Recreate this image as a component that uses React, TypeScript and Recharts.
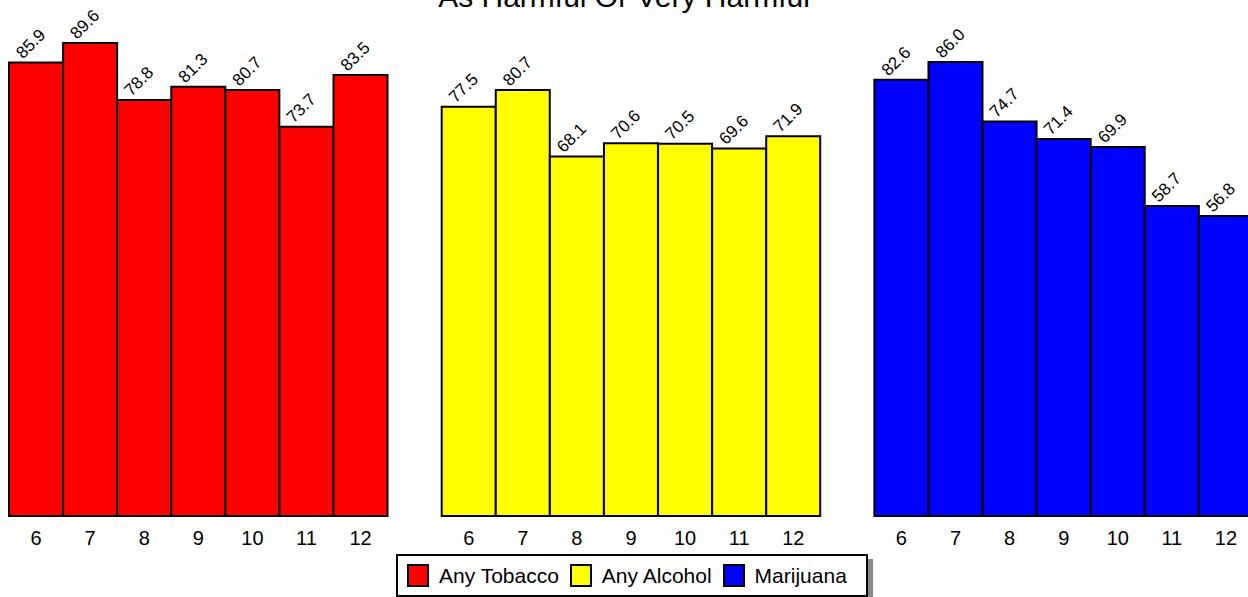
import React from 'react';
import { BarChart, Bar, XAxis, YAxis, Legend, LabelList } from 'recharts';

const grades = ['6', '7', '8', '9', '10', '11', '12'];
const tobacco = [85.9, 89.6, 78.8, 81.3, 80.7, 73.7, 83.5];
const alcohol = [77.5, 80.7, 68.1, 70.6, 70.5, 69.6, 71.9];
const marijuana = [82.6, 86.0, 74.7, 71.4, 69.9, 58.7, 56.8];
const seriesKeys = ['tobacco', 'alcohol', 'marijuana'];
const seriesNames = ['Any Tobacco', 'Any Alcohol', 'Marijuana'];
const seriesColors = ['#ff0000', '#ffff00', '#0000ff'];
const title = 'As Harmful Or Very Harmful';

const FONT = '"Liberation Sans", Arial, Helvetica, sans-serif';

const seriesValues = [tobacco, alcohol, marijuana];
const rows: any[] = [];
seriesValues.forEach((vals, si) => {
  if (si > 0) rows.push({ grade: '' });
  grades.forEach((g, i) => {
    const r: any = { grade: g };
    r[seriesKeys[si]] = vals[i];
    rows.push(r);
  });
});

const ValueLabel = (props: any) => {
  const { x, y, value } = props;
  if (value == null || typeof value !== 'number') return null;
  const ax = Number(x) + 14;
  const ay = Number(y) - 3;
  return (
    <text
      x={ax}
      y={ay}
      transform={`rotate(-45 ${ax} ${ay})`}
      fontSize={17}
      fontFamily={FONT}
      fill="#000"
      textAnchor="start"
    >
      {value.toFixed(1)}
    </text>
  );
};

const renderLegend = () => (
  <div
    style={{
      boxSizing: 'border-box',
      width: 472,
      height: 43,
      border: '2px solid #000',
      background: '#fff',
      boxShadow: '5px 5px 0 #888',
      display: 'flex',
      alignItems: 'center',
      paddingLeft: 9,
      fontFamily: FONT,
      fontSize: 21,
      color: '#000',
    }}
  >
    {seriesNames.map((n, i) => (
      <div key={n} style={{ display: 'flex', alignItems: 'center', marginRight: 11 }}>
        <span
          style={{
            boxSizing: 'border-box',
            display: 'inline-block',
            width: 22,
            height: 23,
            background: seriesColors[i],
            border: '2px solid #000',
            marginRight: 10,
          }}
        />
        <span>{n}</span>
      </div>
    ))}
  </div>
);

export default function App() {
  return (
    <div
      style={{
        position: 'fixed',
        left: 0,
        top: 0,
        width: 1248,
        height: 597,
        overflow: 'hidden',
        background: '#fff',
      }}
    >
      <div style={{ position: 'absolute', left: 0, top: -12 }}>
        <BarChart
          width={1260}
          height={610}
          data={rows}
          margin={{ top: 0, right: 7, bottom: 52, left: 9 }}
          barCategoryGap={0}
          barGap={0}
        >
          <XAxis
            dataKey="grade"
            axisLine={false}
            tickLine={false}
            tickSize={0}
            tickMargin={15}
            height={30}
            interval={0}
            tick={{ fontSize: 20, fontFamily: FONT, fill: '#000' }}
          />
          <YAxis hide domain={[0, 100]} />
          <Legend
            verticalAlign="middle"
            align="center"
            content={renderLegend}
            wrapperStyle={{ left: 396, top: 566, width: 472, height: 43 }}
          />
          {seriesKeys.map((k, i) => (
            <Bar
              key={k}
              dataKey={k}
              name={seriesNames[i]}
              stackId="s"
              fill={seriesColors[i]}
              stroke="#000"
              strokeWidth={2}
              isAnimationActive={false}
            >
              <LabelList dataKey={k} content={ValueLabel} />
            </Bar>
          ))}
        </BarChart>
      </div>
      <svg
        width={1248}
        height={40}
        style={{ position: 'absolute', left: 0, top: 0, pointerEvents: 'none' }}
      >
        <text x={624} y={7} textAnchor="middle" fontSize={30} fontFamily={FONT} fill="#000">
          {title}
        </text>
      </svg>
    </div>
  );
}
